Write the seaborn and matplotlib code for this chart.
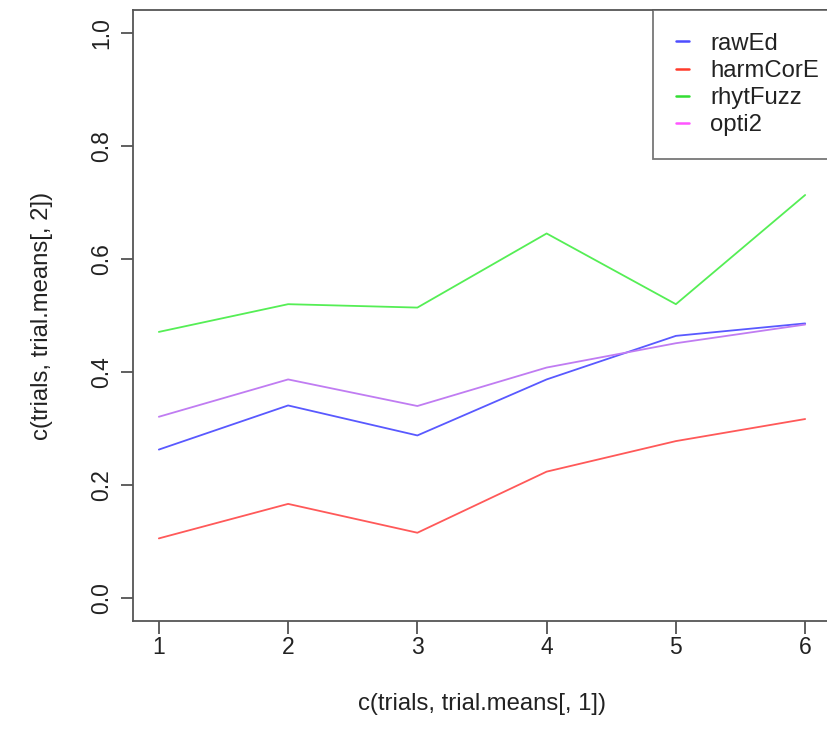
import matplotlib
matplotlib.use("Agg")
import matplotlib.pyplot as plt
import seaborn as sns
import pandas as pd
from matplotlib.lines import Line2D

trials = [1, 2, 3, 4, 5, 6]
series_names = ["rawEd", "harmCorE", "rhytFuzz", "opti2"]
rawEd = [0.263, 0.341, 0.288, 0.387, 0.464, 0.486]
harmCorE = [0.106, 0.167, 0.116, 0.224, 0.278, 0.317]
rhytFuzz = [0.471, 0.520, 0.514, 0.645, 0.520, 0.713]
opti2 = [0.321, 0.387, 0.340, 0.408, 0.451, 0.484]
x_ticks = [1, 2, 3, 4, 5, 6]
y_ticks = [0.0, 0.2, 0.4, 0.6, 0.8, 1.0]

line_colors = ["#5959ff", "#ff5959", "#55ee55", "#c07cf2"]
legend_colors = ["#4d4dff", "#ff3b2b", "#33dd33", "#ff55ff"]

sns.set_style("white")
plt.rcParams["font.family"] = ["Liberation Sans", "DejaVu Sans"]
FS = 17.2
TFS = 16.5

df = pd.DataFrame({
    "trial": trials * 4,
    "value": rawEd + harmCorE + rhytFuzz + opti2,
    "series": sum([[n] * len(trials) for n in series_names], []),
})

fig = plt.figure(figsize=(8.28, 7.40), dpi=100)
ax = fig.add_axes([133 / 828, (740 - 621) / 740, (831 - 133) / 828, (621 - 10) / 740])
sns.lineplot(data=df, x="trial", y="value", hue="series", hue_order=series_names,
             palette=dict(zip(series_names, line_colors)), legend=False, ax=ax,
             linewidth=1.3)

ax.set_xlim(0.8, 6.2)
ax.set_ylim(-0.04, 1.04)
ax.set_xticks(x_ticks)
ax.set_xticklabels([str(t) for t in x_ticks])
ax.set_yticks(y_ticks)
ax.set_yticklabels([f"{t:.1f}" for t in y_ticks], rotation=90, va="center")
ax.tick_params(axis="both", direction="out", length=9, width=1.2, color="#444444",
               labelsize=TFS, labelcolor="#222222", pad=5, left=True, bottom=True)
ax.tick_params(axis="x", pad=2)
for s in ax.spines.values():
    s.set_color("#555555")
    s.set_linewidth(1.3)

ax.set_xlabel("c(trials, trial.means[, 1])", fontsize=FS, color="#222222", labelpad=24)
ax.set_ylabel("c(trials, trial.means[, 2])", fontsize=FS, color="#222222", labelpad=27)

handles = [Line2D([0], [0], color=c, lw=1.8) for c in legend_colors]
leg = ax.legend(handles, series_names, loc="upper left", bbox_to_anchor=(653 / 828, 1 - 10 / 740),
                bbox_transform=fig.transFigure, fontsize=FS, handlelength=0.55,
                handletextpad=0.9, borderpad=0.95, labelspacing=0.22, frameon=True,
                fancybox=False, borderaxespad=0)
leg.get_frame().set_edgecolor("#555555")
leg.get_frame().set_linewidth(1.3)
for t in leg.get_texts():
    t.set_color("#222222")

fig.savefig("out.png", dpi=100)
